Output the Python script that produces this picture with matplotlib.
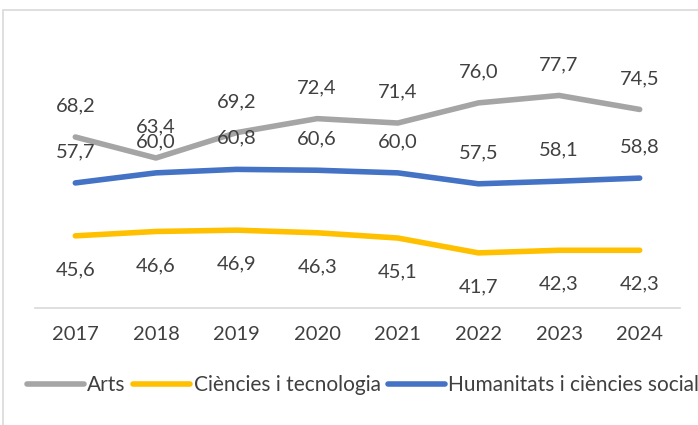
import matplotlib.pyplot as plt
from matplotlib.patches import Rectangle

years = ['2017', '2018', '2019', '2020', '2021', '2022', '2023', '2024']
arts = [68.2, 63.4, 69.2, 72.4, 71.4, 76.0, 77.7, 74.5]
ciencies = [45.6, 46.6, 46.9, 46.3, 45.1, 41.7, 42.3, 42.3]
humanitats = [57.7, 60.0, 60.8, 60.6, 60.0, 57.5, 58.1, 58.8]

plt.rcParams['font.family'] = ['Lato', 'DejaVu Sans']
txt = '#404040'
fs = 14.5

fig = plt.figure(figsize=(6.98, 4.25), dpi=100)
ax = fig.add_axes([35 / 698, 1 - 308 / 425, 645 / 698, (308 - 85.4) / 425])

x = list(range(len(years)))
series = [
    ('Arts', arts, '#a5a5a5', 31),
    ('Ciències i tecnologia', ciencies, '#ffc000', -34),
    ('Humanitats i ciències socials', humanitats, '#4472c4', 31),
]
for name, vals, col, off in series:
    ax.plot(x, vals, color=col, lw=4, solid_capstyle='round',
            solid_joinstyle='round', label=name)
    for xi, v in zip(x, vals):
        ax.annotate(f"{v:.1f}".replace('.', ','), (xi, v), xytext=(0, off),
                    textcoords='offset pixels', ha='center', va='center',
                    fontsize=fs, color=txt)

ax.set_xlim(-0.5, len(years) - 0.5)
ax.set_ylim(29.1, 80)
ax.set_xticks(x)
ax.set_xticklabels(years, fontsize=fs, color=txt)
ax.tick_params(axis='x', length=0, pad=13)
ax.set_yticks([])
for s in ['top', 'left', 'right']:
    ax.spines[s].set_visible(False)
ax.spines['bottom'].set_color('#d9d9d9')
ax.spines['bottom'].set_linewidth(1.2)

fig.legend(loc='center left', bbox_to_anchor=(27 / 698, 1 - 385 / 425),
           ncol=3, frameon=False, fontsize=15, labelcolor=txt,
           handlelength=2.75, handletextpad=0.15, columnspacing=0.35,
           borderaxespad=0, borderpad=0)

fig.patches.append(Rectangle((3 / 698, -0.1), 1.2, 1 - 10 / 425 + 0.1,
                             transform=fig.transFigure, fill=False,
                             edgecolor='#d9d9d9', lw=1.2))

fig.savefig('out.png', dpi=100)
